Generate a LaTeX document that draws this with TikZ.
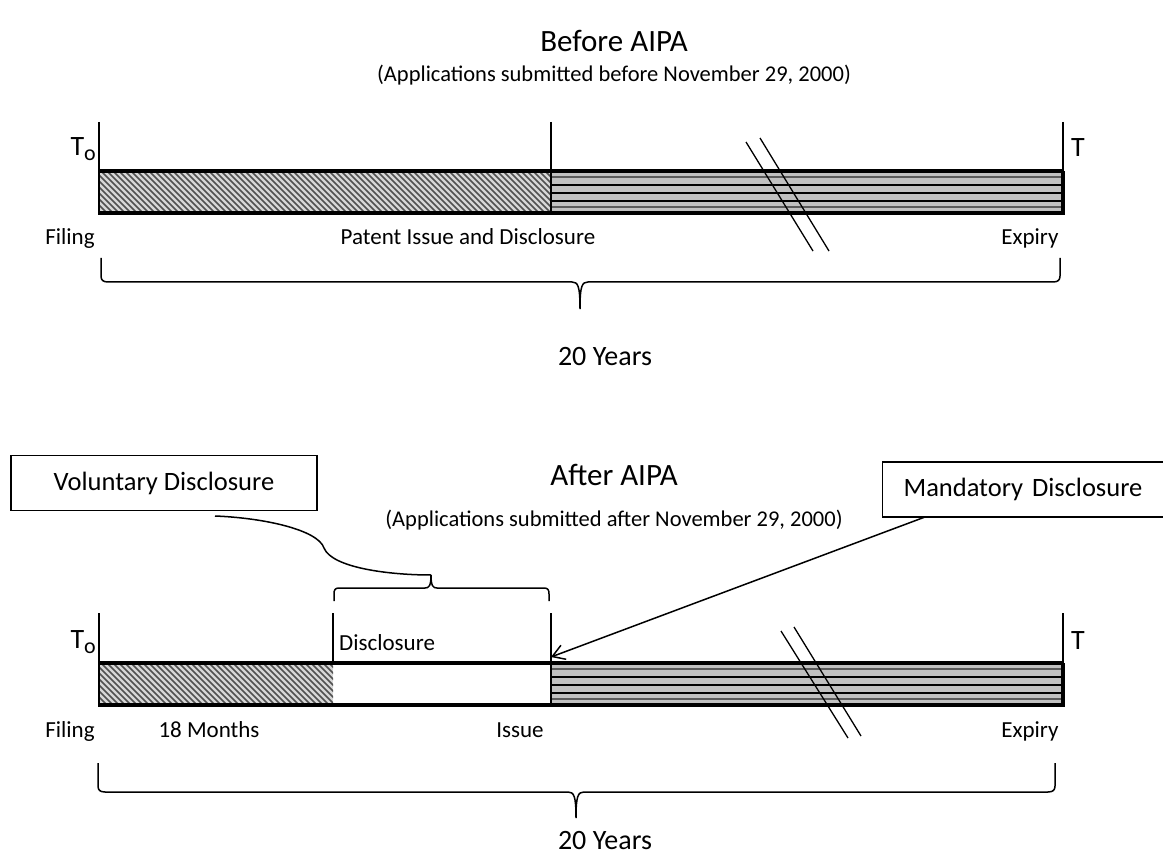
\documentclass[tikz,border=0pt]{standalone}
\usepackage{fontspec}
\setmainfont{Carlito}
\usetikzlibrary{arrows.meta}
\definecolor{stripebg}{RGB}{192,192,192}
\definecolor{stripedk}{RGB}{90,90,90}
\definecolor{hatchbg}{RGB}{215,215,215}
\definecolor{hatchln}{RGB}{80,80,80}
\newcommand{\fsz}[1]{\fontsize{#1}{#1}\selectfont}
\newcommand{\hatchrect}[4]{%
  \begin{scope}
    \clip (#1,#2) rectangle (#3,#4);
    \fill[hatchbg] (#1,#2) rectangle (#3,#4);
    \foreach \k in {0,...,90} \draw[hatchln, line width=1.6pt] ({#1-48+6*\k},{#2-2}) -- ++(48,48);
  \end{scope}}
\newcommand{\striperect}[4]{%
  \fill[stripebg] (#1,#2) rectangle (#3,#4);
  \foreach \d/\c in {6/stripedk,14/black,22/black,30/black,36/stripedk}
    \draw[\c, line width=1.3pt] (#1,{#2+\d}) -- (#3,{#2+\d});}
\begin{document}
\begin{tikzpicture}[x=1pt,y=-1pt,
  title/.style={font=\fsz{31}, anchor=base, inner sep=0pt},
  sub/.style={font=\fsz{22.5}, anchor=base, inner sep=0pt},
  lbl/.style={font=\fsz{23}, anchor=base, inner sep=0pt},
  years/.style={font=\fsz{28}, anchor=base, inner sep=0pt},
  tlabel/.style={font=\fsz{28}, inner sep=0pt},
  callout/.style={draw, line width=1.2pt, font=\fsz{26.5}, minimum height=55pt},
  barline/.style={line width=3.5pt},
  tick/.style={line width=2.2pt},
  slash/.style={line width=1.3pt},
  bracestyle/.style={line width=1.5pt},
  link/.style={line width=1.5pt},
]
\clip (0,0) rectangle (1163,861);
\fill[white] (0,0) rectangle (1163,861);

% ---------- Before AIPA ----------
\node[title] (title1) at (614,52) {Before AIPA};
\node[sub] (sub1) at (614,82) {(Applications submitted before November 29, 2000)};

\hatchrect{99}{171}{551}{213}
\striperect{551}{171}{1063}{213}
\draw[barline] (99,171) -- (1063,171);
\draw[barline] (99,213) -- (1063,213);
\draw[barline] (1063,171) -- (1063,214.7);
\draw[tick] (99,122) -- (99,214.7);
\draw[tick] (551,122) -- (551,213);
\draw[tick] (1063,122) -- (1063,171);

\node[tlabel, anchor=base east] (to1) at (96,156) {T\raisebox{-5pt}{\fsz{22}o}};
\node[tlabel, anchor=base west] (tt1) at (1071,157) {T};

\draw[slash] (746,142) -- (813,251);
\draw[slash] (760,138) -- (829,251);

\node[lbl] (filing1) at (70,245) {Filing};
\node[lbl] (issue1) at (468,245) {Patent Issue and Disclosure};
\node[lbl] (expiry1) at (1030,245) {Expiry};

\draw[bracestyle] (101,258) -- (101,276) .. controls (101,280) and (103,282) .. (108,282)
  -- (572,282) .. controls (578,282) and (580,286) .. (580,309)
  .. controls (580,286) and (582,282) .. (588,282) -- (1053,282)
  .. controls (1058,282) and (1060,280) .. (1060,276) -- (1060,258);
\node[years] (years1) at (605,366) {20 Years};

% ---------- After AIPA ----------
\node[title] (title2) at (614,485) {After AIPA};
\node[sub] (sub2) at (614,526) {(Applications submitted after November 29, 2000)};

\node[callout, minimum width=306pt] (vol) at (164,483) {Voluntary Disclosure};
\node[callout, anchor=west, text width=280pt, align=left, inner xsep=21pt] (mand) at (882,489.5) {Mandatory Disclosure};

\hatchrect{99}{663}{333}{705}
\striperect{551}{663}{1063}{705}
\draw[barline] (99,663) -- (1063,663);
\draw[barline] (99,705) -- (1063,705);
\draw[barline] (1063,663) -- (1063,706.7);
\draw[tick] (99,613) -- (99,706.7);
\draw[tick] (333,613) -- (333,663);
\draw[tick] (551,613) -- (551,705);
\draw[tick] (1063,613) -- (1063,663);

\node[tlabel, anchor=base east] (to2) at (96,648) {T\raisebox{-5pt}{\fsz{22}o}};
\node[tlabel, anchor=base west] (tt2) at (1071,649) {T};

\draw[slash] (781,631) -- (848,738);
\draw[slash] (794,627) -- (861,736);

\node[lbl, anchor=base west] (disc) at (339,650) {Disclosure};
\node[lbl] (filing2) at (70,737) {Filing};
\node[lbl] (months) at (209,737) {18 Months};
\node[lbl] (issue2) at (520,737) {Issue};
\node[lbl] (expiry2) at (1030,737) {Expiry};

% small brace over the disclosure period
\coordinate (dtip) at (431,575);
\draw[bracestyle] (334,601) -- (334,594) .. controls (334,590) and (335,588) .. (339,588)
  -- (425,588) .. controls (429,588) and (431,586) .. (dtip)
  .. controls (431,586) and (433,588) .. (437,588) -- (544,588)
  .. controls (548,588) and (549,590) .. (549,594) -- (549,601);

% callout curve from Voluntary Disclosure
\coordinate (volfoot) at (215,516);
\coordinate (volbend) at (324,548);
\draw[link] (volfoot) .. controls (265,518) and (318,530) .. (volbend)
  .. controls (332,568) and (390,575) .. (dtip);

% arrow from Mandatory Disclosure
\coordinate (mandfoot) at (925,517);
\coordinate (issuept) at (551,657);
\draw[link, -{Straight Barb[length=12pt,width=15pt,line width=1.5pt]}] (mandfoot) -- (issuept);

\draw[bracestyle] (98,763) -- (98,786) .. controls (98,790) and (100,792) .. (105,792)
  -- (568,792) .. controls (574,792) and (576,796) .. (576,818)
  .. controls (576,796) and (578,792) .. (584,792) -- (1048,792)
  .. controls (1053,792) and (1055,790) .. (1055,786) -- (1055,763);
\node[years] (years2) at (605,849) {20 Years};
\end{tikzpicture}
\end{document}
